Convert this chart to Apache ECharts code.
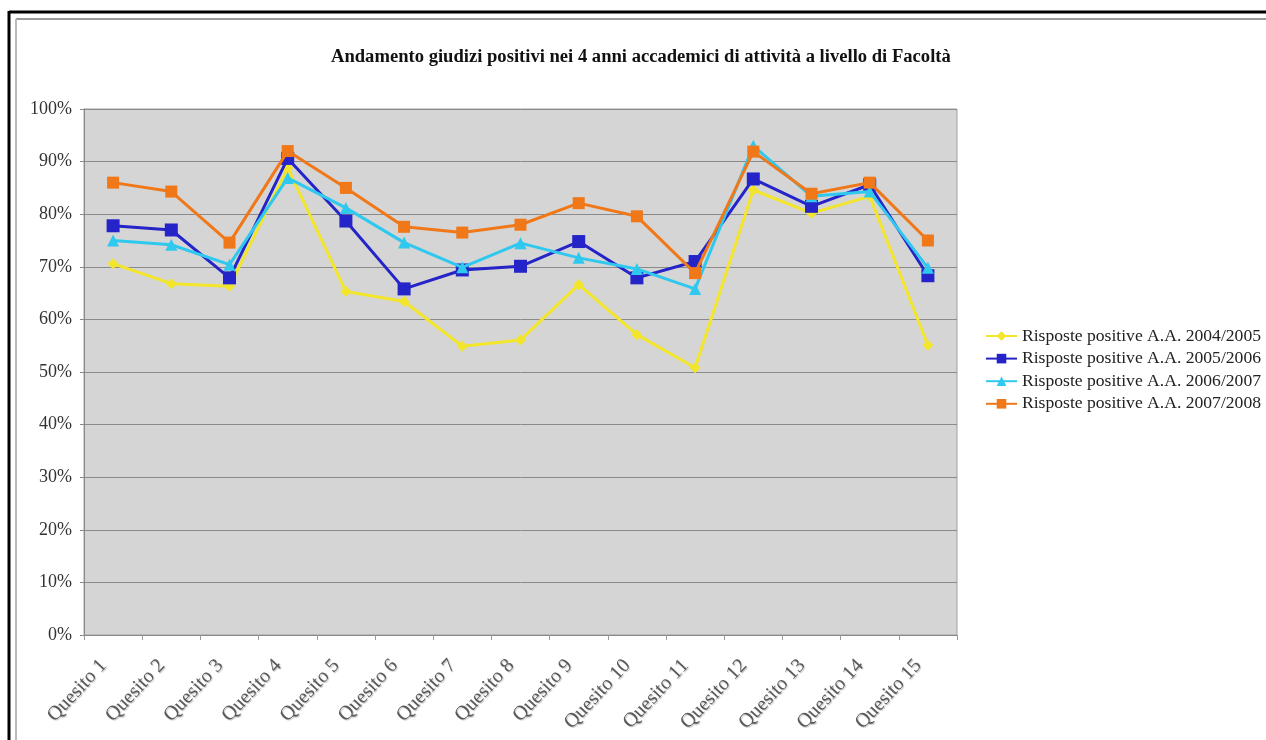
<!DOCTYPE html>
<html>
<head>
<meta charset="utf-8">
<script src="https://cdn.jsdelivr.net/npm/echarts@6/dist/echarts.min.js"></script>
<style>
html,body{margin:0;padding:0;background:#fff;}
#chart{width:1266px;height:740px;}
</style>
</head>
<body>
<div id="chart"></div>
<script>
const categories = ['Quesito 1','Quesito 2','Quesito 3','Quesito 4','Quesito 5','Quesito 6','Quesito 7','Quesito 8','Quesito 9','Quesito 10','Quesito 11','Quesito 12','Quesito 13','Quesito 14','Quesito 15'];
const seriesNames = ['Risposte positive A.A. 2004/2005','Risposte positive A.A. 2005/2006','Risposte positive A.A. 2006/2007','Risposte positive A.A. 2007/2008'];
const aa2004 = [0.706,0.668,0.663,0.888,0.653,0.634,0.549,0.561,0.666,0.571,0.508,0.846,0.802,0.834,0.551];
const aa2005 = [0.778,0.770,0.679,0.906,0.787,0.658,0.694,0.701,0.748,0.679,0.710,0.867,0.815,0.856,0.683];
const aa2006 = [0.750,0.742,0.704,0.869,0.812,0.746,0.699,0.745,0.717,0.696,0.658,0.930,0.834,0.843,0.698];
const aa2007 = [0.860,0.843,0.746,0.920,0.850,0.776,0.765,0.780,0.821,0.796,0.688,0.919,0.839,0.860,0.750];
const yTicks = [0,0.1,0.2,0.3,0.4,0.5,0.6,0.7,0.8,0.9,1];

const serif = '"Liberation Serif", "DejaVu Serif", serif';
const colors = ['#f2e52a','#2424c8','#2fc8ee','#f07818'];
const symbols = ['diamond','rect','triangle','rect'];
const symbolSizes = [11,13,12,12];
const datasets = [aa2004,aa2005,aa2006,aa2007];

const chart = echarts.init(document.getElementById('chart'));
chart.setOption({
  backgroundColor:'#fff',
  animation:false,
  title:{
    text:'Andamento giudizi positivi nei 4 anni accademici di attività a livello di Facoltà',
    left:326, top:43,
    textStyle:{fontFamily:serif,fontSize:18.6,fontWeight:'bold',color:'#111'}
  },
  legend:{
    orient:'vertical', left:980, top:322,
    itemWidth:31, itemHeight:12, itemGap:4.6,
    textStyle:{fontFamily:serif,fontSize:17.6,color:'#222'},
    data:seriesNames
  },
  grid:{left:84,right:309,top:109,bottom:105,show:true,backgroundColor:'#d5d5d5',borderColor:'#a0a0a0',borderWidth:1},
  xAxis:{
    type:'category', data:categories, boundaryGap:true,
    axisLine:{lineStyle:{color:'#888',width:1}},
    axisTick:{show:true,length:5,lineStyle:{color:'#999'}},
    axisLabel:{rotate:47,margin:17,padding:[0,14,0,0],fontFamily:serif,fontSize:20,color:'#5a5a5a',
      textShadowColor:'rgba(0,0,0,0.25)',textShadowOffsetX:1,textShadowOffsetY:1,textShadowBlur:1}
  },
  yAxis:{
    type:'value', min:yTicks[0], max:yTicks[yTicks.length-1], interval:0.1,
    axisLine:{show:true,lineStyle:{color:'#888'}},
    axisTick:{show:true,length:4,lineStyle:{color:'#888'}},
    splitLine:{show:true,lineStyle:{color:'#8a8a8a',width:1}},
    axisLabel:{margin:12,fontFamily:serif,fontSize:18,color:'#333',
      formatter:v=>Math.round(v*100)+'%'}
  },
  graphic:[
    {type:'line',shape:{x1:9,y1:12,x2:1266,y2:12},style:{stroke:'#000',lineWidth:3}},
    {type:'line',shape:{x1:9,y1:11,x2:9,y2:740},style:{stroke:'#000',lineWidth:3}},
    {type:'line',shape:{x1:16,y1:19,x2:1266,y2:19},style:{stroke:'#999',lineWidth:2}},
    {type:'line',shape:{x1:16,y1:19,x2:16,y2:740},style:{stroke:'#bbb',lineWidth:2}}
  ],
  series:seriesNames.map((n,i)=>({
    name:n, type:'line', data:datasets[i],
    symbol:symbols[i], symbolSize:symbolSizes[i],
    itemStyle:{color:colors[i]},
    lineStyle:{color:colors[i],width:3},
    z:2+i
  }))
});
</script>
</body>
</html>
